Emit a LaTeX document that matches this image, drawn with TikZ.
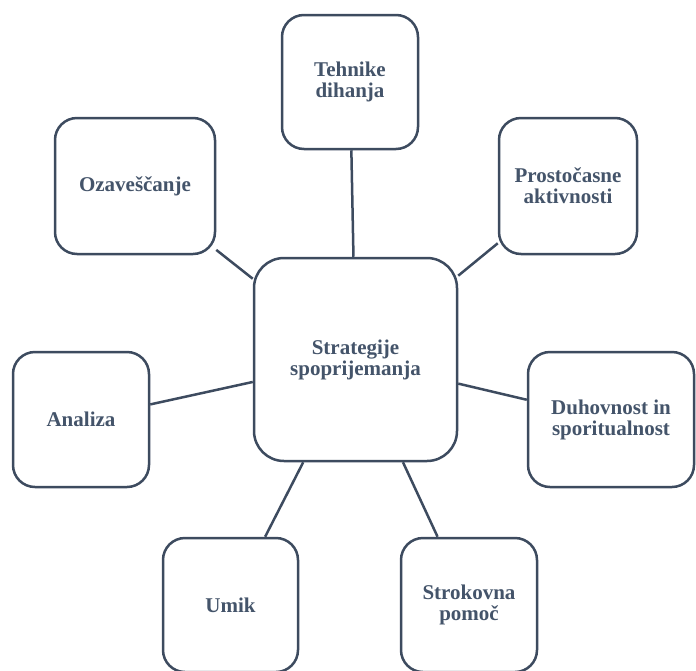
\documentclass[tikz,border=0pt]{standalone}
\usepackage{fontspec}
\setmainfont{Liberation Serif}
\definecolor{txt}{HTML}{44546A}
\definecolor{ln}{HTML}{3D4B5F}
\tikzset{
  box/.style={draw=ln, line width=2.5pt, rounded corners=22pt, fill=white,
    align=center, text=txt, inner sep=0pt,
    font=\fontsize{21}{21}\selectfont\bfseries},
  conn/.style={draw=ln, line width=2.5pt}
}
\begin{document}
\begin{tikzpicture}[x=1pt,y=-1pt]
\useasboundingbox (0,0) rectangle (696,670);
\begin{scope}
\clip (0,0) rectangle (696,670);
\node[box, rounded corners=30pt, minimum width=203pt, minimum height=203pt] (c) at (355.5,359.5) {Strategije\\spoprijemanja};
\node[box, minimum width=136pt, minimum height=134pt] (t) at (350,82) {Tehnike\\dihanja};
\node[box, minimum width=160pt, minimum height=136pt] (o) at (135,186) {Ozaveščanje};
\node[box, minimum width=138pt, minimum height=136pt] (p) at (568,186) {Prostočasne\\aktivnosti};
\node[box, minimum width=136pt, minimum height=135pt] (a) at (81,419.5) {Analiza};
\node[box, minimum width=166pt, minimum height=135pt] (d) at (611,419.5) {Duhovnost in\\sporitualnost};
\node[box, minimum width=135pt, minimum height=134pt] (u) at (230.5,605) {Umik};
\node[box, minimum width=136pt, minimum height=134pt] (s) at (469,605) {Strokovna\\pomoč};
\foreach \n in {t,o,p,a,d,u,s}{
  \draw[conn] (c) -- (\n);
}
\end{scope}
\end{tikzpicture}
\end{document}
